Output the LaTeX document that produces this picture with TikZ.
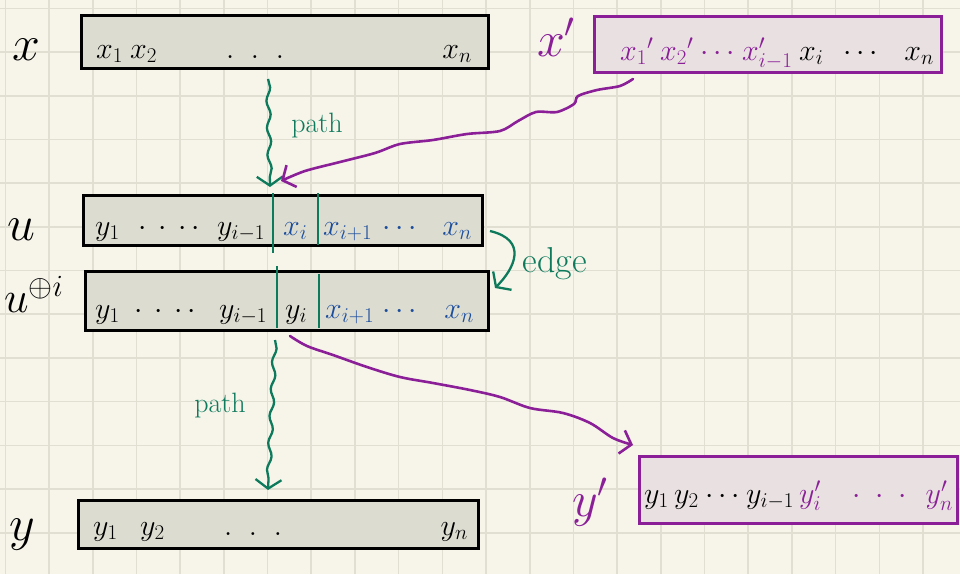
\RequirePackage{fix-cm}
\documentclass[tikz,border=0pt]{standalone}
\usepackage{amsmath}
\usepackage{tikz}
\usetikzlibrary{arrows.meta,positioning,decorations.pathmorphing}
\definecolor{paper}{HTML}{F7F5EA}
\definecolor{gridline}{HTML}{E1DFD2}
\definecolor{cellfill}{HTML}{DDDCD0}
\definecolor{primefill}{HTML}{E9E0E1}
\definecolor{inkgreen}{HTML}{0E7A5C}
\definecolor{inkblue}{HTML}{1C4E9E}
\definecolor{inkpurple}{HTML}{8A1F98}

\begin{document}
\begin{tikzpicture}[x=1pt,y=-1pt,
  strbox/.style={draw=black,line width=2.6pt,fill=cellfill,anchor=north west,inner sep=0pt},
  primebox/.style={strbox,draw=inkpurple,fill=primefill},
  tok/.style={anchor=base west,inner sep=0pt,font=\fontsize{30}{32}\selectfont},
  tokend/.style={tok,anchor=base east},
  strname/.style={anchor=base,inner sep=0pt,font=\fontsize{50}{52}\selectfont},
  note/.style={inner sep=0pt,text=inkgreen,font=\fontsize{28}{30}\selectfont},
  sepline/.style={draw=inkgreen,line width=2pt},
  greenarr/.style={draw=inkgreen,line width=2.3pt,-{Straight Barb[length=9pt,width=26pt]}},
  wavy/.style={decorate,decoration={snake,amplitude=2pt,segment length=27pt,post length=10pt}},
  purparr/.style={draw=inkpurple,line width=2.6pt,line cap=round,-{Straight Barb[length=10pt,width=24pt]}}]

% paper and grid
\useasboundingbox (0,0) rectangle (960,574);
\fill[paper] (0,0) rectangle (960,574);
\foreach \gx in {0,...,21}
  \draw[gridline,line width=1.6pt] (5.3+43.7*\gx,0) -- (5.3+43.7*\gx,574);
\foreach \gy in {0,...,13}
  \draw[gridline,line width=1.6pt] (0,8.3+43.7*\gy) -- (960,8.3+43.7*\gy);

% the strings
\node[strbox,minimum width=407pt,minimum height=53pt] (X) at (80,14) {};
\node[primebox,minimum width=347pt,minimum height=56pt] (Xp) at (593,15) {};
\node[strbox,minimum width=399pt,minimum height=50pt] (U) at (82,194) {};
\node[strbox,minimum width=403pt,minimum height=59pt] (Ui) at (84,270) {};
\node[strbox,minimum width=400pt,minimum height=48pt] (Y) at (77,499) {};
\node[primebox,minimum width=318pt,minimum height=67pt] (Yp) at (638,455) {};

% names
\node[strname] (lX) at (26,60) {$x$};
\node[strname,text=inkpurple] (lXp) at (556,56) {$x'$};
\node[strname] (lU) at (21,240) {$u$};
\node[strname,anchor=base west,font=\fontsize{44}{46}\selectfont] (lUi) at (4,312) {$u^{\oplus i}$};
\node[strname] (lY) at (22,540) {$y$};
\node[strname,text=inkpurple] (lYp) at (590,516) {$y'$};

% x
\node[tok] (x1) at (96,58) {$x_1$};
\node[tok] (x2) at (130,58) {$x_2$};
\node[tok] (xdots) at (226,58) {$.\;\;.\;\;.$};
\node[tokend] (xn) at (472,58) {$x_n$};

% x'
\node[tok,text=inkpurple] (xp1) at (620,60) {${x_1}'$};
\node[tok,text=inkpurple] (xp2) at (660,60) {${x_2}'$};
\node[tok,text=inkpurple] (xpdots) at (700,60) {$\cdots$};
\node[tok,text=inkpurple] (xpim) at (742,60) {$x'_{i-1}$};
\node[tok] (xpi) at (799,60) {$x_i$};
\node[tok] (xpdots2) at (843,60) {$\cdots$};
\node[tokend] (xpn) at (934,60) {$x_n$};

% u
\node[tok] (u1) at (95,235) {$y_1$};
\node[tok] (udots) at (138,235) {$\cdot\,\cdot\,\cdot\,\cdot$};
\node[tok] (uim) at (217,235) {$y_{i-1}$};
\node[tok,text=inkblue] (ui) at (283,235) {$x_i$};
\node[tok,text=inkblue] (uip) at (323,235) {$x_{i+1}$};
\node[tok,text=inkblue] (udots2) at (382,235) {$\cdots$};
\node[tokend,text=inkblue] (un) at (472,235) {$x_n$};
\draw[sepline] (273,193) -- (273,253);
\draw[sepline] (318,193) -- (318,245);

% u with y_i
\node[tok] (v1) at (95,318) {$y_1$};
\node[tok] (vdots) at (134,318) {$\cdot\,\cdot\,\cdot\,\cdot$};
\node[tok] (vim) at (219,318) {$y_{i-1}$};
\node[tok] (vi) at (285,318) {$y_i$};
\node[tok,text=inkblue] (vip) at (325,318) {$x_{i+1}$};
\node[tok,text=inkblue] (vdots2) at (382,318) {$\cdots$};
\node[tokend,text=inkblue] (vn) at (474,318) {$x_n$};
\draw[sepline] (277,266) -- (277,328);
\draw[sepline] (319,274) -- (319,328);

% y
\node[tok] (y1) at (93,535) {$y_1$};
\node[tok] (y2) at (140,535) {$y_2$};
\node[tok] (ydots) at (224,535) {$.\;\;.\;\;.$};
\node[tokend] (yn) at (468,535) {$y_n$};

% y'
\node[tok] (yp1) at (644,503) {$y_1$};
\node[tok] (yp2) at (674,503) {$y_2$};
\node[tok] (ypdots) at (705,503) {$\cdots$};
\node[tok] (ypim) at (746,503) {$y_{i-1}$};
\node[tok,text=inkpurple] (ypi) at (799,503) {$y'_i$};
\node[tok,text=inkpurple] (ypdots2) at (852,503) {$\cdot\;\cdot\;\cdot$};
\node[tokend,text=inkpurple] (ypn) at (953,503) {$y'_n$};

% connectors
\coordinate (pathAfrom) at (268,79);
\coordinate (pathAto) at (270,187);
\coordinate (pathBfrom) at (275,340);
\coordinate (pathBto) at (268,490);
\coordinate (edgeFrom) at (490,231);
\coordinate (edgeTo) at (495,288);
\coordinate (swapFrom) at (633,79);
\coordinate (swapTo) at (281,181);
\coordinate (outFrom) at (290,336);
\coordinate (outTo) at (633,445);

\draw[greenarr,wavy] (pathAfrom) -- (pathAto);
\node[note] (pathA) at (317,126) {path};
\draw[greenarr,wavy] (pathBfrom) -- (pathBto);
\node[note] (pathB) at (220,406) {path};
\draw[greenarr] (edgeFrom) .. controls (528,240) and (515,268) .. (edgeTo);
\node[note,font=\fontsize{36}{38}\selectfont] (edgeLbl) at (555,264) {edge};

\draw[purparr] plot[smooth,tension=0.5] coordinates {(swapFrom) (620,86) (597,90) (578,96)
  (574,104) (557,112) (536,112) (518,121) (500,131) (467,134) (433,140) (400,144) (375,153)
  (340,162) (305,171) (swapTo)};
\draw[purparr] plot[smooth,tension=0.55] coordinates {(outFrom) (307,346) (333,355) (367,367)
  (400,377) (433,383) (470,390) (500,397) (530,408) (563,413) (590,423) (613,438) (outTo)};
\end{tikzpicture}
\end{document}
